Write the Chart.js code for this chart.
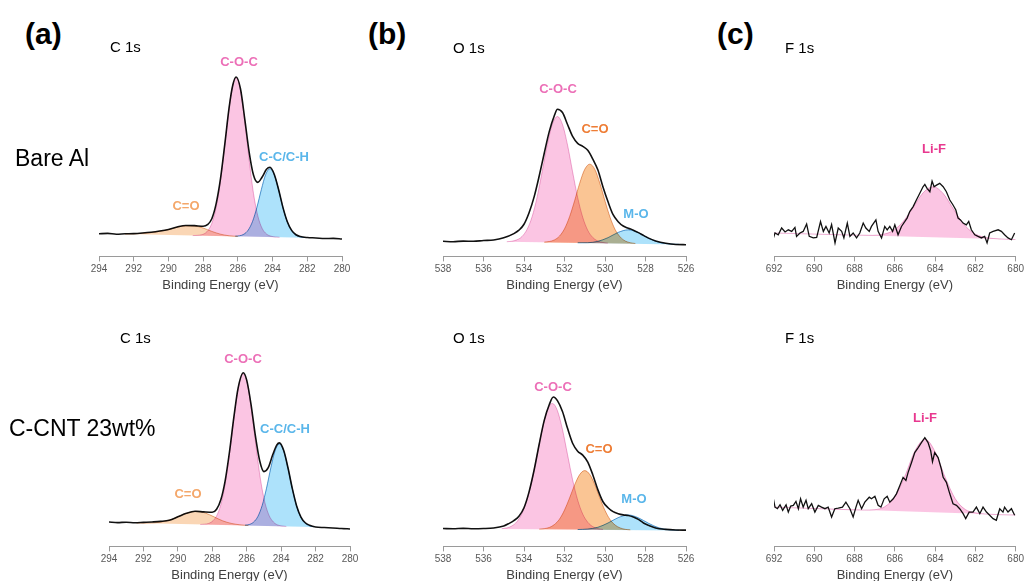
<!DOCTYPE html>
<html lang="en">
<head>
<meta charset="UTF-8">
<title>XPS spectra</title>
<script src="https://cdn.jsdelivr.net/npm/chart.js"></script>
<style>
  body { margin:0; width:1027px; height:581px; overflow:hidden; background:#fff; position:relative;
         font-family: Arial, "Liberation Sans", sans-serif; }
  canvas { position:absolute; }
  .c { position:absolute; white-space:nowrap; line-height:1; transform:translate(-50%,-50%); }
  .l { position:absolute; white-space:nowrap; line-height:1; transform:translateY(-50%); }
  .pl { font-size:30px; font-weight:bold; color:#000; }
  .sm { font-size:15px; color:#000; }
  .big { font-size:23px; color:#000; }
  .pk { font-size:13px; font-weight:bold; }
</style>
</head>
<body>

<canvas id="ca1" width="283" height="243" style="left:79px;top:50px"></canvas>
<canvas id="cb1" width="283" height="243" style="left:423px;top:50px"></canvas>
<canvas id="cc1" width="272" height="243" style="left:754px;top:50px"></canvas>
<canvas id="ca2" width="281" height="243" style="left:89px;top:340px"></canvas>
<canvas id="cb2" width="283" height="243" style="left:423px;top:340px"></canvas>
<canvas id="cc2" width="272" height="243" style="left:754px;top:340px"></canvas>

<div class="l pl" style="left:25px;top:34px">(a)</div>
<div class="l pl" style="left:368px;top:34px">(b)</div>
<div class="l pl" style="left:717px;top:34px">(c)</div>

<div class="l sm" style="left:110px;top:46px">C 1s</div>
<div class="l sm" style="left:453px;top:47px">O 1s</div>
<div class="l sm" style="left:785px;top:47px">F 1s</div>
<div class="l sm" style="left:120px;top:337px">C 1s</div>
<div class="l sm" style="left:453px;top:337px">O 1s</div>
<div class="l sm" style="left:785px;top:337px">F 1s</div>

<div class="l big" style="left:15px;top:158px">Bare Al</div>
<div class="l big" style="left:9px;top:428px">C-CNT 23wt%</div>

<!-- peak labels, top row -->
<div class="c pk" style="left:239px;top:61px;color:#ec6fb7">C-O-C</div>
<div class="c pk" style="left:284px;top:156px;color:#5ab6ea">C-C/C-H</div>
<div class="c pk" style="left:186px;top:205px;color:#f4a76a">C=O</div>
<div class="c pk" style="left:558px;top:88px;color:#ec6fb7">C-O-C</div>
<div class="c pk" style="left:595px;top:128px;color:#ee7d35">C=O</div>
<div class="c pk" style="left:636px;top:213px;color:#5ab6ea">M-O</div>
<div class="c pk" style="left:934px;top:148px;color:#e8388f">Li-F</div>
<!-- peak labels, bottom row -->
<div class="c pk" style="left:243px;top:358px;color:#ec6fb7">C-O-C</div>
<div class="c pk" style="left:285px;top:428px;color:#5ab6ea">C-C/C-H</div>
<div class="c pk" style="left:188px;top:493px;color:#f4a76a">C=O</div>
<div class="c pk" style="left:553px;top:386px;color:#ec6fb7">C-O-C</div>
<div class="c pk" style="left:599px;top:448px;color:#ee7d35">C=O</div>
<div class="c pk" style="left:634px;top:498px;color:#5ab6ea">M-O</div>
<div class="c pk" style="left:925px;top:417px;color:#e8388f">Li-F</div>

<script>
// ---- C 1s, bare Al  [binding energy eV, intensity a.u.]
const cBareEnv = [[294,11.4],[293.5,11.6],[293,11.2],[292.5,11.4],[292,11.5],[291.5,11.8],[291,12.2],[290.5,12.8],[290,13.6],[289.5,14.8],[289,15.6],[288.5,15.5],[288,15.2],[287.75,16.0],[287.5,19.0],[287.25,26.6],[287,39.2],[286.75,56.7],[286.5,75.2],[286.3,86.0],[286.1,90.4],[285.85,84.5],[285.6,69.1],[285.35,52.6],[285.1,41.0],[284.85,37.3],[284.6,40.0],[284.35,43.9],[284.15,44.9],[283.9,41.3],[283.65,33.6],[283.4,24.6],[283.15,17.5],[282.9,13.1],[282.65,10.9],[282.4,10.0],[282,9.5],[281.5,9.3],[281,9.0],[280.5,9.1],[280,8.8]];
const cBareCO  = [[292.5,11.25],[292,11.4],[291,12.0],[290,13.5],[289.5,14.7],[289,15.4],[288.5,15.3],[288,14.3],[287.5,12.6],[287,11.2],[286.5,10.4],[286,10.1]];
const cBareCOC = [[288.6,10.5],[288.35,10.6],[288.1,10.9],[287.85,11.9],[287.6,14.7],[287.35,20.8],[287.1,32.1],[286.85,48.8],[286.6,68.0],[286.35,83.9],[286.1,90.1],[285.85,83.9],[285.6,67.8],[285.35,48.6],[285.1,31.7],[284.85,20.4],[284.6,14.1],[284.35,11.3],[284.1,10.2],[283.85,9.8],[283.6,9.65]];
const cBareCC  = [[286.15,10.2],[285.9,10.4],[285.65,11.2],[285.4,13.3],[285.15,17.7],[284.9,24.8],[284.65,33.6],[284.4,41.2],[284.15,44.2],[283.9,41.1],[283.65,33.5],[283.4,24.5],[283.15,17.4],[282.9,12.9],[282.65,10.7],[282.4,9.8],[282.15,9.5]];
const cBareBkg = [[294,11.5],[280,9.0]];

// ---- C 1s, C-CNT 23wt%
const cCntEnv = [[294,12.3],[293.5,12.0],[293,12.2],[292.5,11.9],[292,12.1],[291.5,12.3],[291,12.6],[290.5,13.2],[290,14.9],[289.5,16.7],[289,17.7],[288.5,17.4],[288,17.2],[287.75,18.7],[287.5,23.6],[287.25,33.2],[287,47.7],[286.75,64.9],[286.5,79.8],[286.2,87.5],[286,83.8],[285.75,71.6],[285.5,55.9],[285.25,43.3],[285,37.7],[284.75,39.7],[284.5,45.9],[284.25,51.2],[284.1,52.2],[283.85,48.3],[283.6,39.5],[283.35,29.1],[283.1,20.4],[282.85,14.8],[282.6,11.9],[282.35,10.7],[282,9.8],[281.5,9.5],[281,9.3],[280.5,9.0],[280,8.8]];
const cCntCO  = [[292.4,11.8],[291.9,11.75],[291.4,11.9],[290.9,12.4],[290.4,13.5],[289.9,15.3],[289.4,17.0],[288.9,17.7],[288.4,16.8],[287.9,14.9],[287.4,12.9],[286.9,11.6],[286.4,10.9],[285.9,10.5]];
const cCntCOC = [[288.7,11.05],[288.45,11.2],[288.2,11.6],[287.95,13.0],[287.7,16.2],[287.45,22.8],[287.2,34.1],[286.95,50.0],[286.7,67.5],[286.45,81.7],[286.2,87.0],[285.95,81.6],[285.7,67.3],[285.45,49.7],[285.2,33.7],[284.95,22.3],[284.7,15.6],[284.45,12.3],[284.2,10.8],[283.95,10.3],[283.7,10.05]];
const cCntCC  = [[286.1,10.7],[285.85,11.05],[285.6,12.25],[285.35,15.1],[285.1,20.7],[284.85,29.3],[284.6,39.6],[284.35,48.2],[284.1,51.6],[283.85,48.1],[283.6,39.4],[283.35,29.0],[283.1,20.3],[282.85,14.6],[282.6,11.6],[282.35,10.35],[282.1,9.9]];
const cCntBkg = [[294,12.1],[280,9.3]];

// ---- O 1s, bare Al
const oBareEnv = [[538,7.6],[537.5,7.4],[537,7.7],[536.5,7.6],[536,8.0],[535.5,8.3],[535,9.4],[534.5,11.5],[534.25,13.2],[534,16.2],[533.75,22],[533.5,30],[533.25,40.5],[533,52],[532.75,63],[532.5,71],[532.35,74.2],[532.1,72.5],[531.85,66.5],[531.6,60.5],[531.35,57],[531.1,55.5],[530.85,53.5],[530.6,49],[530.35,43.5],[530.1,35],[529.85,27.5],[529.6,21],[529.35,17.5],[529.1,15.3],[528.85,14.2],[528.6,13.2],[528.35,12],[528.1,10.6],[527.85,9.2],[527.5,7.8],[527,6.6],[526.5,6.0],[526,5.9]];
const oBareCOC = [[534.85,7.4],[534.6,7.65],[534.35,8.35],[534.1,10.0],[533.85,13.6],[533.6,20.0],[533.35,30.0],[533.1,42.9],[532.85,56.2],[532.6,66.6],[532.35,70.5],[532.1,66.5],[531.85,56.1],[531.6,42.6],[531.35,29.7],[531.1,19.7],[530.85,13.1],[530.6,9.5],[530.35,7.75],[530.1,6.98],[529.85,6.68]];
const oBareCO  = [[533,7.2],[532.75,7.5],[532.5,8.3],[532.25,10.2],[532,13.9],[531.75,20.0],[531.5,28.1],[531.25,36.9],[531,43.9],[530.75,46.5],[530.5,43.8],[530.25,36.7],[530,27.9],[529.75,19.7],[529.5,13.5],[529.25,9.8],[529,7.75],[528.75,6.9],[528.5,6.5]];
const oBareMO  = [[531.35,6.85],[530.85,6.9],[530.35,7.6],[529.85,9.45],[529.35,12.1],[528.85,13.4],[528.35,12.0],[527.85,9.15],[527.35,7.15],[526.85,6.3],[526.35,6.08]];
const oBareBkg = [[538,7.8],[526,6.0]];

// ---- O 1s, C-CNT 23wt%
const oCntEnv = [[538,9.0],[537.5,8.9],[537,9.1],[536.5,8.9],[536,9.0],[535.5,9.3],[535,10.3],[534.75,11.5],[534.5,13.0],[534.25,15.2],[534,19.5],[533.75,27.5],[533.5,38.5],[533.25,51.5],[533,63.5],[532.75,71.5],[532.55,75.3],[532.35,73.5],[532.1,68],[531.85,59.5],[531.6,52],[531.35,48],[531.1,46],[530.85,42.5],[530.6,36],[530.35,28.5],[530.1,22.5],[529.85,19.5],[529.6,17.5],[529.35,16.5],[529.1,15.9],[528.85,15.6],[528.6,14.8],[528.35,13.6],[528.1,11.8],[527.85,10.6],[527.5,9.3],[527,8.6],[526.5,8.3],[526,8.2]];
const oCntCOC = [[535.1,8.95],[534.85,9.3],[534.6,10.3],[534.35,12.45],[534.1,16.6],[533.85,23.6],[533.6,33.7],[533.35,46.3],[533.1,59.0],[532.85,68.5],[532.6,72.05],[532.35,68.4],[532.1,58.9],[531.85,46.2],[531.6,33.6],[531.35,23.35],[531.1,16.3],[530.85,12.15],[530.6,9.95],[530.35,8.95],[530.1,8.55]];
const oCntCO  = [[533.25,8.7],[533,8.95],[532.75,9.55],[532.5,11.0],[532.25,13.7],[532,18.3],[531.75,24.4],[531.5,31.0],[531.25,36.2],[531,38.2],[530.75,36.2],[530.5,31.0],[530.25,24.25],[530,18.1],[529.75,13.5],[529.5,10.75],[529.25,9.3],[529,8.6],[528.75,8.33]];
const oCntMO  = [[531.35,8.5],[530.85,8.75],[530.35,9.65],[529.85,11.8],[529.35,14.5],[528.85,15.85],[528.35,14.4],[527.85,11.65],[527.35,9.4],[526.85,8.4],[526.35,8.1]];
const oCntBkg = [[538,9.0],[526,8.0]];

// ---- F 1s, bare Al (raw counts trace + Li-F fit)
const fBareRaw = [[692.03,9.3],[691.95,11.8],[691.79,10.9],[691.62,14.3],[691.45,12.3],[691.29,13.4],[691.12,12.6],[690.96,14.6],[690.88,10.1],[690.71,11.8],[690.55,12.6],[690.38,16.3],[690.25,10.1],[690.05,9.3],[689.88,9.6],[689.69,17.6],[689.55,12.6],[689.42,15.1],[689.26,11.8],[689.14,16.0],[688.97,6.8],[688.81,14.3],[688.64,12.6],[688.53,9.3],[688.36,16.8],[688.23,10.1],[688.07,11.8],[687.9,9.3],[687.74,11.8],[687.57,16.8],[687.44,14.3],[687.27,12.6],[687.16,15.1],[686.94,18.4],[686.83,12.6],[686.66,9.3],[686.5,15.1],[686.38,13.4],[686.25,15.1],[686.11,12.6],[686,15.9],[685.84,10.9],[685.67,15.1],[685.5,17.6],[685.39,19.3],[685.26,22.6],[685.09,25.1],[684.93,28.4],[684.76,31.8],[684.6,35.1],[684.51,36.3],[684.4,34.3],[684.26,32.6],[684.15,37.9],[684.05,35.1],[683.93,35.9],[683.77,36.8],[683.6,35.1],[683.44,32.6],[683.27,28.4],[683.11,25.9],[682.97,23.4],[682.86,19.3],[682.74,18.4],[682.61,16.8],[682.45,15.9],[682.33,17.6],[682.2,13.4],[682.03,10.9],[681.87,10.1],[681.7,9.3],[681.54,10.1],[681.42,6.8],[681.29,11.8],[681.12,12.6],[680.87,13.4],[680.71,12.6],[680.55,10.9],[680.38,9.3],[680.21,8.4],[680.05,11.8]];
const fBareLiF = [[692,11.8],[690,11.25],[688,10.7],[687.1,10.6],[686.6,11.1],[686.1,12.9],[685.6,17.4],[685.1,24.5],[684.6,32.0],[684.1,35.1],[683.6,31.7],[683.1,24.0],[682.6,16.5],[682.1,11.8],[681.6,9.75],[681.1,9.0],[680,8.5]];
const fBareBkg = [[692,11.8],[680,8.5]];

// ---- F 1s, C-CNT 23wt%
const fCntRaw = [[692.03,24.0],[691.95,19.8],[691.83,19.0],[691.7,21.0],[691.57,18.2],[691.4,21.0],[691.29,17.3],[691.17,20.3],[691.04,20.7],[690.91,22.7],[690.79,19.0],[690.68,24.0],[690.55,19.8],[690.41,23.2],[690.3,19.0],[690.13,21.5],[689.97,17.3],[689.8,20.7],[689.64,19.8],[689.47,19.0],[689.31,19.8],[689.14,14.8],[688.98,19.0],[688.81,19.3],[688.6,19.8],[688.43,22.3],[688.23,19.0],[688.07,14.8],[687.93,19.8],[687.82,23.2],[687.65,19.0],[687.49,22.3],[687.27,24.8],[687.16,24.0],[686.99,25.3],[686.83,20.7],[686.69,19.8],[686.53,24.0],[686.38,25.3],[686.25,22.3],[686.08,24.0],[685.92,26.5],[685.75,30.7],[685.59,34.8],[685.45,33.2],[685.34,37.3],[685.17,42.3],[685.01,47.3],[684.84,49.8],[684.68,52.3],[684.51,54.8],[684.35,52.3],[684.22,48.2],[684.13,42.7],[684.02,47.3],[683.85,44.8],[683.69,39.0],[683.6,34.8],[683.44,32.3],[683.27,26.5],[683.11,21.5],[682.94,20.7],[682.78,19.0],[682.61,16.5],[682.48,14.0],[682.31,17.3],[682.12,17.3],[681.95,19.8],[681.78,16.5],[681.62,19.8],[681.45,17.3],[681.29,15.7],[681.12,14.0],[680.96,13.2],[680.79,19.0],[680.63,17.3],[680.55,19.8],[680.38,17.3],[680.21,19.0],[680.05,15.7]];
const fCntLiF = [[692,19.8],[690,19.1],[688,18.4],[687.5,18.3],[687,18.5],[686.5,20.0],[686,25.0],[685.5,35.4],[685,48.1],[684.5,54.0],[684,47.7],[683.5,34.8],[683,24.0],[682.5,18.6],[682,16.9],[681.5,16.3],[680,15.8]];
const fCntBkg = [[692,19.8],[680,15.8]];

const PINK   = ['rgba(245,110,185,0.40)', 'rgba(215,80,160,0.45)'];
const ORANGE = ['rgba(245,165,90,0.45)',  'rgba(215,120,50,0.6)'];
const ORANGE2= ['rgba(245,150,60,0.55)',  'rgba(215,110,40,0.6)'];
const BLUE   = ['rgba(60,185,245,0.42)',  'rgba(30,120,190,0.75)'];

Chart.defaults.font.family = 'Arial, "Liberation Sans", sans-serif';

const xy = arr => arr.map(p => ({x: p[0], y: p[1]}));

// fills are blended like the original (overlaps get darker)
const multiply = {
  id: 'multiply',
  beforeDatasetsDraw(chart) { chart.ctx.save(); chart.ctx.globalCompositeOperation = 'multiply'; },
  afterDatasetsDraw(chart) { chart.ctx.restore(); }
};

function panel(id, lo, hi, padR, raw, noisy, comps, bkg) {
  const bkgIndex = comps.length + 1;
  const sets = [{
    data: xy(raw), borderColor: '#111', borderWidth: noisy ? 1.3 : 1.6,
    tension: 0, cubicInterpolationMode: noisy ? 'default' : 'monotone', fill: false
  }];
  comps.forEach(c => sets.push({
    data: xy(c[0]), backgroundColor: c[1][0], borderColor: c[1][1], borderWidth: 1,
    cubicInterpolationMode: 'monotone', fill: bkgIndex
  }));
  sets.push({ data: xy(bkg), borderWidth: 0, borderColor: 'rgba(0,0,0,0)', fill: false });

  new Chart(document.getElementById(id), {
    type: 'line',
    data: { datasets: sets },
    options: {
      responsive: false, animation: false, devicePixelRatio: 1,
      layout: { padding: { left: 20, right: padR, top: 8, bottom: 0 } },
      elements: { point: { radius: 0 } },
      plugins: { legend: { display: false }, tooltip: { enabled: false } },
      scales: {
        x: {
          type: 'linear', min: lo, max: hi, reverse: true,
          grid: { drawOnChartArea: false, drawTicks: true, tickLength: 5, color: '#9a9a9a' },
          border: { color: '#9a9a9a', width: 1 },
          ticks: { stepSize: 2, color: '#595959', font: { size: 10 }, padding: 2, maxRotation: 0, autoSkip: false },
          title: { display: true, text: 'Binding Energy (eV)', color: '#404040', font: { size: 13 }, padding: { top: 0, bottom: 0 } }
        },
        y: { display: false, min: 0, max: 100 }
      }
    },
    plugins: [multiply]
  });
}

panel('ca1', 280, 294, 20, cBareEnv, false, [[cBareCC, BLUE], [cBareCOC, PINK], [cBareCO, ORANGE]], cBareBkg);
panel('cb1', 526, 538, 20, oBareEnv, false, [[oBareMO, BLUE], [oBareCO, ORANGE2], [oBareCOC, PINK]], oBareBkg);
panel('cc1', 680, 692, 10, fBareRaw, true, [[fBareLiF, PINK]], fBareBkg);
panel('ca2', 280, 294, 20, cCntEnv, false, [[cCntCC, BLUE], [cCntCOC, PINK], [cCntCO, ORANGE]], cCntBkg);
panel('cb2', 526, 538, 20, oCntEnv, false, [[oCntMO, BLUE], [oCntCO, ORANGE2], [oCntCOC, PINK]], oCntBkg);
panel('cc2', 680, 692, 10, fCntRaw, true, [[fCntLiF, PINK]], fCntBkg);
</script>
</body>
</html>
